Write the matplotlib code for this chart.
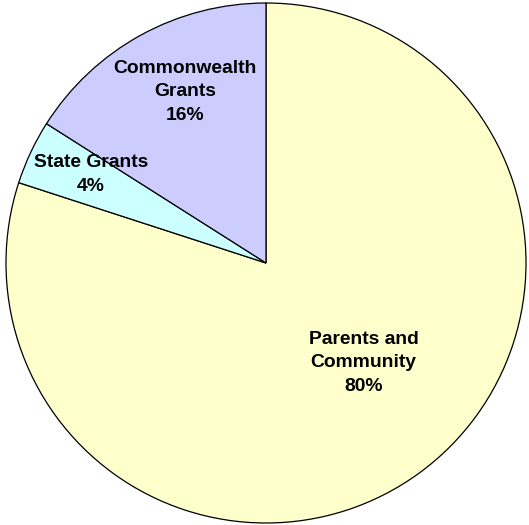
import numpy as np
import matplotlib.pyplot as plt

labels = ['Parents and\nCommunity', 'State Grants', 'Commonwealth\nGrants']
shares = [80, 4, 16]
colors = ['#FFFFCC', '#CCFFFF', '#CCCCFF']

# label anchors in pie units (radius = 1)
label_xy = [(0.375, -0.383), (-0.673, 0.340), (-0.312, 0.658)]

fig = plt.figure(figsize=(5.29, 5.25), dpi=100)
ax = fig.add_axes([6 / 529, 2 / 525, 520 / 529, 520 / 525])

ax.pie(shares, colors=colors, startangle=90, counterclock=False, radius=1.0,
       wedgeprops=dict(edgecolor='black', linewidth=0.9))

for lab, val, (x, y) in zip(labels, shares, label_xy):
    ax.text(x, y, '%s\n%d%%' % (lab, val), ha='center', va='center',
            fontsize=13.9, fontweight='bold', family='Liberation Sans',
            linespacing=1.5)

ax.set_xlim(-1, 1)
ax.set_ylim(-1, 1)
ax.set_aspect('auto')
ax.axis('off')

fig.savefig('out.png', dpi=100)
